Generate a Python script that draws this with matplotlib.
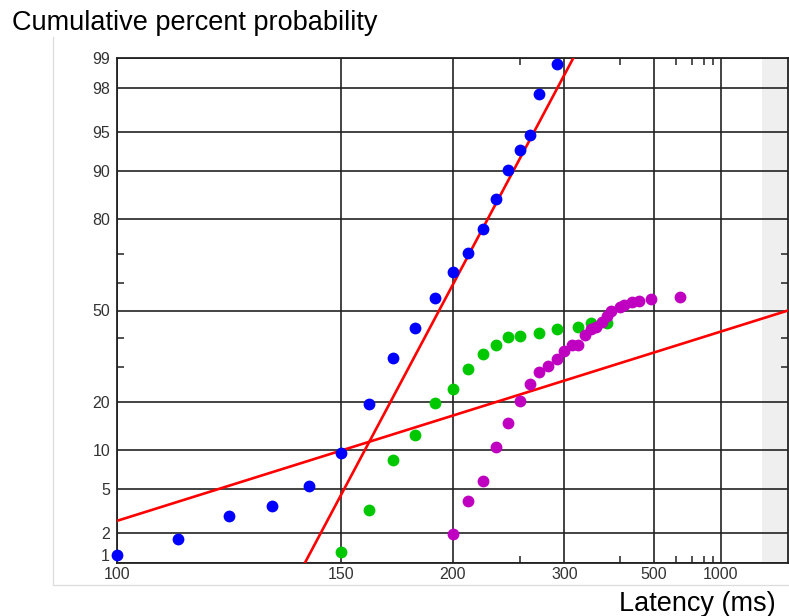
import math
from statistics import NormalDist
import numpy as np
import matplotlib as mpl
mpl.use('Agg')
import matplotlib.pyplot as plt
import matplotlib.transforms as mtransforms
from matplotlib.lines import Line2D

plt.rcParams["font.family"] = ["Liberation Sans", "DejaVu Sans"]

# latency (ms) and cumulative percent for each condition
blue_ms = [100, 110, 120, 130, 140, 150, 160, 170, 180, 190, 200, 210, 220, 230, 240, 250, 260, 270, 290]
blue_pct = [1.2, 1.77, 2.94, 3.55, 5.34, 9.4, 19.5, 33.2, 43.7, 54.7, 63.9, 70.3, 77.4, 84.8, 90.3, 93.0, 94.7, 97.7, 98.84]

green_ms = [150, 160, 170, 180, 190, 200, 210, 220, 230, 240, 250, 270, 290, 320, 340, 370]
green_pct = [1.3, 3.31, 8.49, 12.5, 19.7, 23.5, 29.5, 34.5, 37.6, 40.3, 40.8, 41.8, 43.3, 44.1, 45.4, 45.4]

magenta_ms = [200, 210, 220, 230, 240, 250, 260, 270, 280, 290, 300, 310, 320, 330, 340,
              350, 360, 370, 380, 400, 410, 430, 450, 490, 620]
magenta_pct = [1.99, 3.97, 5.86, 10.5, 15.0, 20.3, 25.0, 28.5, 30.6, 32.8, 35.4, 37.6, 37.6, 41.0, 43.3,
               44.1, 45.6, 48.0, 50.0, 51.2, 52.0, 53.1, 53.6, 54.3, 54.8]

# LATER fits: mean and sd of the rate (1/s)
main_mu, main_sigma = 5.2, 0.86
early_mu, early_sigma = 0.0, 5.16

x_ticks = [100, 150, 200, 300, 500, 1000]
x_minor = [250, 400, 600, 700, 800, 900]
y_ticks = [1, 2, 5, 10, 20, 50, 80, 90, 95, 98, 99]
y_minor = [30, 40, 60, 70]

ND = NormalDist()
_ppf = np.vectorize(lambda p: ND.inv_cdf(min(max(p, 1e-9), 100 - 1e-9) / 100.0))
_cdf = np.vectorize(lambda z: 100.0 * 0.5 * (1 + math.erf(z / math.sqrt(2))))


def recip_fwd(t):
    t = np.asarray(t, dtype=float)
    with np.errstate(divide='ignore', invalid='ignore'):
        return -1.0 / np.where(t > 0, t, 1e-12)


def recip_inv(x):
    x = np.asarray(x, dtype=float)
    with np.errstate(divide='ignore', invalid='ignore'):
        return -1.0 / np.where(x < 0, x, -1e-15)


def fit_pct(ms, mu, sigma):
    ms = np.asarray(ms, dtype=float)
    return _cdf((mu - 1000.0 / ms) / sigma)


T_INF = 1e12

fig = plt.figure(figsize=(7.89, 6.16), dpi=100)
ax = fig.add_axes([117 / 789, 53 / 616, 671 / 789, 505 / 616])
ax.set_xscale('function', functions=(recip_fwd, recip_inv))
ax.set_yscale('function', functions=(_ppf, _cdf))
ax.set_xlim(100, T_INF)
ax.set_ylim(1, 99)

ax.axvspan(2600, T_INF, color='#efefef', zorder=0, lw=0)

ax.set_xticks(x_ticks)
ax.set_xticklabels([str(v) for v in x_ticks])
ax.set_xticks(x_minor, minor=True)
ax.set_yticks(y_ticks)
ax.set_yticklabels([str(v) for v in y_ticks])
ax.set_yticks(y_minor, minor=True)
ax.tick_params(which='major', length=0, labelsize=11.5, labelcolor='#333333', pad=5)
ax.tick_params(axis='x', which='major', pad=3)
ax.tick_params(which='minor', direction='in', length=5, width=1.1, color='#222222',
               top=True, right=True, bottom=True, left=True)
ax.grid(True, which='major', color='#222222', lw=1.2, zorder=1)
for s in ax.spines.values():
    s.set_color('#222222')
    s.set_linewidth(1.3)

# lift the bottom "1" so it sits above the "100" label
lab1 = ax.get_yticklabels()[0]
lab1.set_transform(lab1.get_transform() + mtransforms.ScaledTranslation(0, 6 / 72, fig.dpi_scale_trans))

# fitted lines
t_main = np.linspace(100, 2000, 800)
ax.plot(t_main, fit_pct(t_main, main_mu, main_sigma), color='#ff0000', lw=1.9, zorder=3)
t_early = np.concatenate([np.linspace(100, 5000, 400), [T_INF]])
ax.plot(t_early, fit_pct(t_early, early_mu, early_sigma), color='#ff0000', lw=1.9, zorder=3)

ms = 8.5
ax.plot(blue_ms, blue_pct, 'o', color='#0000ff', ms=ms, mew=0, zorder=4, clip_on=False)
ax.plot(green_ms, green_pct, 'o', color='#00c800', ms=ms, mew=0, zorder=4, clip_on=False)
ax.plot(magenta_ms, magenta_pct, 'o', color='#c000c0', ms=ms, mew=0, zorder=4, clip_on=False)

# light panel border
fig.add_artist(Line2D([53 / 789, 53 / 789], [1 - 37 / 616, 1 - 585 / 616], color='#dddddd', lw=0.9))
fig.add_artist(Line2D([53 / 789, 1.0], [1 - 585 / 616, 1 - 585 / 616], color='#dddddd', lw=0.9))

fig.text(12 / 789, 1 - 30 / 616, 'Cumulative percent probability', fontsize=19.5, va='baseline', ha='left')
fig.text(776 / 789, 1 - 611 / 616, 'Latency (ms)', fontsize=19.5, va='baseline', ha='right')

plt.savefig('out.png', dpi=100)
